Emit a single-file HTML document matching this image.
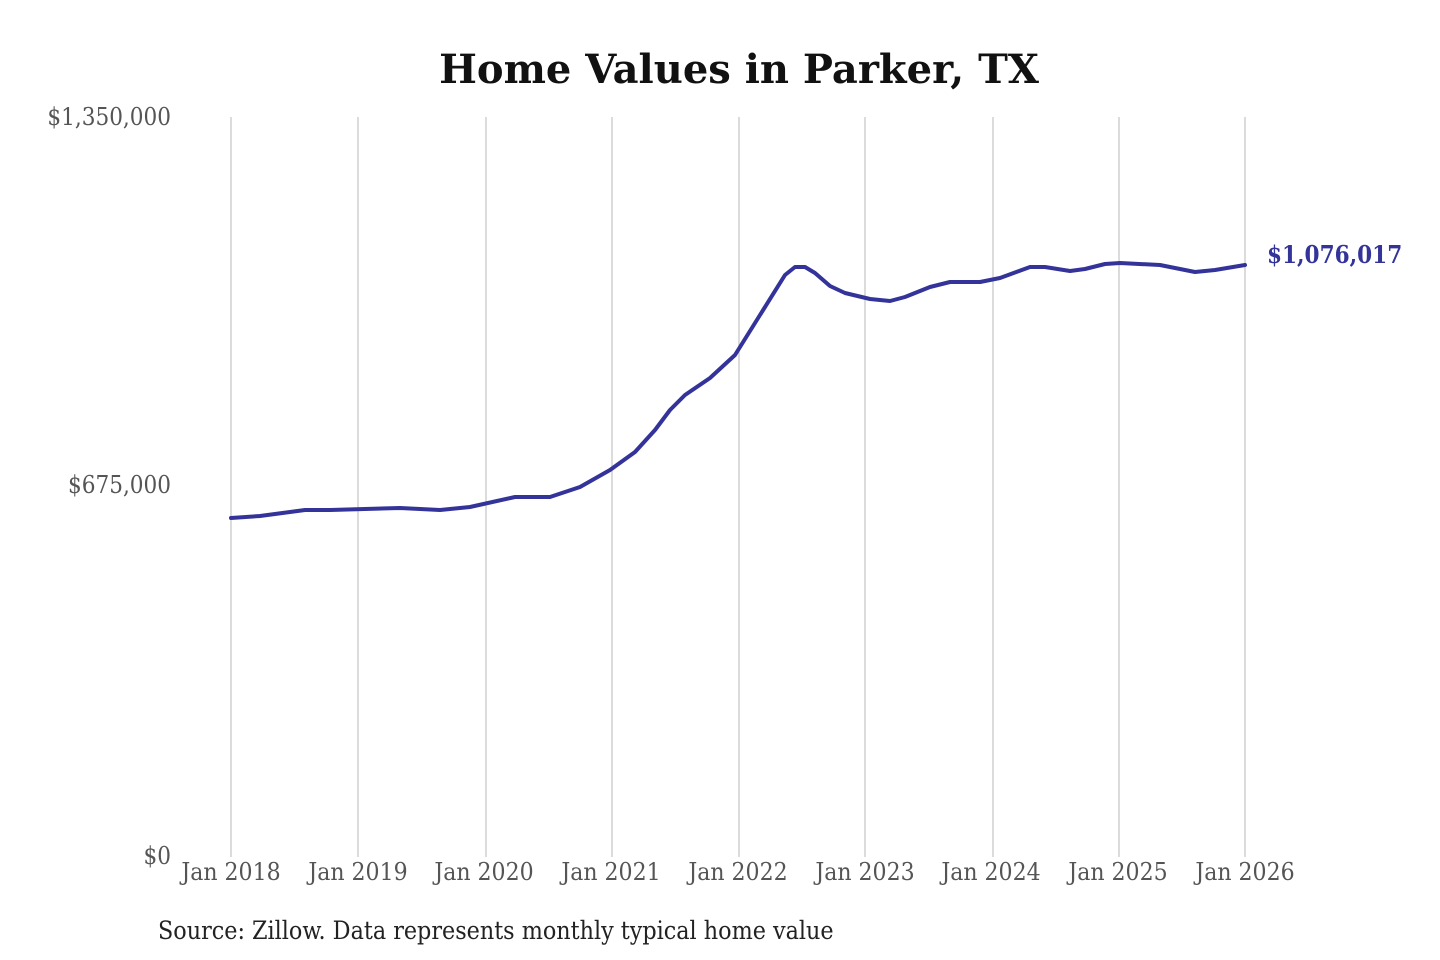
<!DOCTYPE html>
<html><head><style>
html,body{margin:0;padding:0;background:#fff;width:1440px;height:960px;overflow:hidden}
svg text{font-family:"DejaVu Serif","Liberation Serif",serif;font-stretch:condensed}
</style></head><body>
<svg width="1440" height="960" xmlns="http://www.w3.org/2000/svg">
<text x="739" y="83" text-anchor="middle" font-size="40" font-weight="bold" fill="#111" style="font-stretch:normal">Home Values in Parker, TX</text>
<g stroke="#c8c8c8" stroke-width="1.3">
<line x1="231" y1="117" x2="231" y2="857"/><line x1="358" y1="117" x2="358" y2="857"/>
<line x1="486" y1="117" x2="486" y2="857"/><line x1="612" y1="117" x2="612" y2="857"/>
<line x1="739" y1="117" x2="739" y2="857"/><line x1="865" y1="117" x2="865" y2="857"/>
<line x1="993" y1="117" x2="993" y2="857"/><line x1="1119" y1="117" x2="1119" y2="857"/>
<line x1="1245" y1="117" x2="1245" y2="857"/>
</g>
<g font-size="24" fill="#555" text-anchor="end">
<text x="171" y="125">$1,350,000</text>
<text x="171" y="493">$675,000</text>
<text x="171" y="864">$0</text>
</g>
<g font-size="24.5" fill="#555" text-anchor="middle">
<text x="231" y="880">Jan 2018</text><text x="358" y="880">Jan 2019</text>
<text x="484" y="880">Jan 2020</text><text x="611" y="880">Jan 2021</text>
<text x="738" y="880">Jan 2022</text><text x="865" y="880">Jan 2023</text>
<text x="991" y="880">Jan 2024</text><text x="1118" y="880">Jan 2025</text>
<text x="1245" y="880">Jan 2026</text>
</g>
<polyline fill="none" stroke="#33339a" stroke-width="4" stroke-linejoin="round" stroke-linecap="round"
points="231,518 260,516 305,510 330,510 400,508 440,510 470,507 515,497 550,497 580,487 610,470 635,452 655,430 670,410 685,395 710,378 735,355 760,315 785,275 795,267 805,267 815,273 830,286 845,293 870,299 890,301 905,297 930,287 950,282 980,282 1000,278 1030,267 1045,267 1070,271 1085,269 1105,264 1120,263 1160,265 1195,272 1215,270 1245,265"/>
<text x="1267" y="263" font-size="24" font-weight="bold" fill="#33339a">$1,076,017</text>
<text x="158" y="939" font-size="24.8" fill="#222">Source: Zillow. Data represents monthly typical home value</text>
</svg>
</body></html>
